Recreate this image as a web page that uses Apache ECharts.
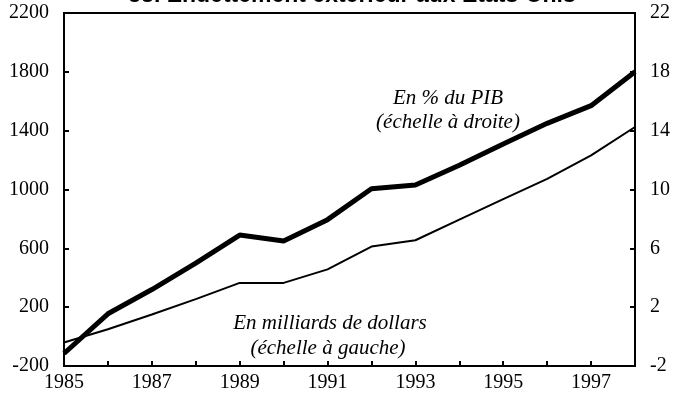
<!DOCTYPE html>
<html>
<head>
<meta charset="utf-8">
<script src="https://cdn.jsdelivr.net/npm/echarts@6/dist/echarts.min.js"></script>
<style>
  html, body { margin: 0; padding: 0; background: #fff; }
  #chart { width: 673px; height: 406px; }
</style>
</head>
<body>
<div id="chart"></div>
<script>
// Years on the horizontal axis
const years = ['1985','1986','1987','1988','1989','1990','1991','1992','1993','1994','1995','1996','1997','1998'];
// Net external debt, billions of dollars (left scale)
const debtBillions = [-40, 50, 150, 255, 365, 365, 457, 612, 655, 795, 935, 1072, 1232, 1425];
// Net external debt, % of GDP (right scale)
const debtPctGdp = [-1.15, 1.55, 3.2, 5.0, 6.9, 6.5, 7.95, 10.05, 10.3, 11.65, 13.1, 14.5, 15.7, 18.0];

const titleText = '58. Endettement extérieur aux Etats-Unis';
const pctLabel = ['En % du PIB', '(échelle à droite)'];
const dollarLabel = ['En milliards de dollars', '(échelle à gauche)'];

const serif = '"Liberation Serif", "DejaVu Serif", serif';
const sans = '"Liberation Sans", Arial, sans-serif';

const chart = echarts.init(document.getElementById('chart'), null, { renderer: 'canvas' });

const axisText = { color: '#000', fontFamily: serif, fontSize: 20 };
const plain = v => String(v);

chart.setOption({
  animation: false,
  backgroundColor: '#fff',
  grid: {
    left: 64, right: 37, top: 13, bottom: 40,
    show: true, borderColor: '#000', borderWidth: 2, backgroundColor: 'transparent'
  },
  xAxis: {
    type: 'category',
    data: years,
    boundaryGap: false,
    axisLine: { onZero: false, lineStyle: { color: '#000', width: 2 } },
    axisTick: { inside: true, length: 5, interval: 0, lineStyle: { color: '#000', width: 2 } },
    axisLabel: Object.assign({ interval: 1, margin: 7 }, axisText),
    splitLine: { show: false }
  },
  yAxis: [
    {
      type: 'value', min: -200, max: 2200, interval: 400, position: 'left',
      axisLine: { show: true, onZero: false, lineStyle: { color: '#000', width: 2 } },
      axisTick: { show: true, inside: true, length: 5, lineStyle: { color: '#000', width: 2 } },
      axisLabel: Object.assign({ margin: 15, formatter: plain }, axisText),
      splitLine: { show: false }
    },
    {
      type: 'value', min: -2, max: 22, interval: 4, position: 'right',
      axisLine: { show: true, onZero: false, lineStyle: { color: '#000', width: 2 } },
      axisTick: { show: true, inside: true, length: 5, lineStyle: { color: '#000', width: 2 } },
      axisLabel: Object.assign({ margin: 15, formatter: plain }, axisText),
      splitLine: { show: false }
    }
  ],
  series: [
    {
      name: 'En milliards de dollars', type: 'line', yAxisIndex: 0,
      data: debtBillions, symbol: 'none',
      lineStyle: { color: '#000', width: 2 }
    },
    {
      name: 'En % du PIB', type: 'line', yAxisIndex: 1,
      data: debtPctGdp, symbol: 'none',
      lineStyle: { color: '#000', width: 5 }
    }
  ],
  graphic: [
    {
      type: 'text', x: 352, y: -4,
      style: { text: titleText, font: 'bold 23px ' + sans, fill: '#000', align: 'center', verticalAlign: 'middle' }
    },
    {
      type: 'text', x: 448, y: 98,
      style: { text: pctLabel[0], font: 'italic 21px ' + serif, fill: '#000', align: 'center', verticalAlign: 'middle' }
    },
    {
      type: 'text', x: 448, y: 122,
      style: { text: pctLabel[1], font: 'italic 21px ' + serif, fill: '#000', align: 'center', verticalAlign: 'middle' }
    },
    {
      type: 'text', x: 330, y: 323,
      style: { text: dollarLabel[0], font: 'italic 21px ' + serif, fill: '#000', align: 'center', verticalAlign: 'middle' }
    },
    {
      type: 'text', x: 328, y: 348,
      style: { text: dollarLabel[1], font: 'italic 21px ' + serif, fill: '#000', align: 'center', verticalAlign: 'middle' }
    }
  ]
});
</script>
</body>
</html>
